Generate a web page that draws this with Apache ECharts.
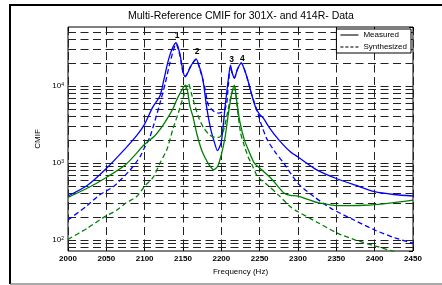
<!DOCTYPE html>
<html>
<head>
<meta charset="utf-8">
<title>Multi-Reference CMIF</title>
<script src="https://cdn.jsdelivr.net/npm/echarts@6/dist/echarts.min.js"></script>
<style>
  html, body { margin: 0; padding: 0; background: #fff; }
  #chart { width: 442px; height: 285px; }
</style>
</head>
<body>
<div id="chart"></div>
<script>
// curves (Hz, CMIF)
var measuredAFreq = [2000, 2025, 2050, 2075, 2090, 2100, 2110, 2120, 2125, 2130, 2135, 2141, 2146, 2150, 2153, 2160, 2167, 2172, 2176, 2181, 2186, 2190, 2195, 2200, 2205, 2209, 2212, 2214, 2217, 2221, 2226, 2230, 2235, 2240, 2245, 2250, 2255, 2263, 2275, 2290, 2300, 2325, 2350, 2375, 2400, 2425, 2450]
var measuredA = [373, 510, 850, 1550, 2300, 3200, 5200, 7500, 12000, 20000, 29000, 36500, 26000, 15500, 13200, 18000, 22500, 17000, 12000, 5200, 2800, 2000, 1450, 1900, 5500, 12000, 18700, 15000, 12700, 16500, 20000, 16500, 11500, 7500, 5200, 4300, 3800, 2850, 2000, 1400, 1200, 810, 630, 515, 425, 390, 373]

var synthAFreq = [2000, 2025, 2041, 2059, 2081, 2094, 2100, 2107, 2120, 2127, 2133, 2141, 2146, 2150, 2153, 2160, 2167, 2172, 2176, 2179, 2183, 2190, 2196, 2203, 2207, 2209, 2212, 2214, 2217, 2221, 2226, 2230, 2235, 2240, 2246, 2252, 2260, 2270, 2280, 2300, 2321, 2343, 2373, 2400, 2426, 2450]
var synthA = [182, 280, 384, 492, 811, 1208, 1600, 2200, 6000, 11000, 20000, 35000, 25000, 15000, 13500, 18000, 22000, 16500, 12000, 9000, 5700, 4700, 4450, 4700, 6000, 10000, 18000, 15000, 12700, 16500, 20000, 16500, 11500, 7500, 5000, 3200, 2000, 1400, 1040, 545, 365, 258, 182, 135, 107, 91]

var measuredBFreq = [2000, 2025, 2050, 2075, 2100, 2113, 2122, 2131, 2137, 2142, 2146, 2150, 2153, 2156, 2159, 2163, 2168, 2174, 2179, 2184, 2190, 2195, 2200, 2205, 2209, 2213, 2217, 2220, 2224, 2230, 2235, 2243, 2250, 2265, 2282, 2290, 2300, 2326, 2356, 2386, 2417, 2450]
var measuredB = [358, 470, 650, 950, 1750, 2250, 2900, 4000, 5100, 6700, 8000, 9400, 10300, 8500, 5500, 4000, 2400, 1500, 1160, 950, 818, 900, 1280, 2200, 4250, 7500, 10300, 6500, 3500, 2000, 1500, 1000, 861, 630, 404, 380, 373, 306, 279, 283, 300, 330]

var synthBFreq = [2000, 2025, 2048, 2064, 2075, 2090, 2100, 2111, 2120, 2129, 2137, 2144, 2150, 2157, 2161, 2165, 2171, 2177, 2185, 2192, 2197, 2202, 2207, 2212, 2217, 2220, 2225, 2229, 2235, 2240, 2246, 2252, 2260, 2275, 2290, 2300, 2325, 2352, 2375, 2400, 2425, 2450]
var synthB = [102, 142, 201, 245, 300, 370, 500, 650, 1000, 1500, 2800, 4500, 7000, 10800, 8000, 5800, 3800, 2850, 2300, 2150, 2150, 2500, 4000, 7000, 10000, 6000, 2500, 1800, 1200, 950, 700, 600, 520, 380, 270, 233, 170, 122, 100, 84, 71, 60]

// horizontal grid (log minor + major ticks inside the plot range)
var yGridLines = [80, 90, 100, 200, 300, 400, 500, 600, 700, 800, 900, 1000, 2000, 3000, 4000, 5000, 6000, 7000, 8000, 9000, 10000, 20000, 30000, 40000, 50000]

var peakNames = ['1', '2', '3', '4']
var peakFreqs = [2141, 2167, 2212, 2226]

var myChart = echarts.init(document.getElementById('chart'))

function pairs (freq, vals) {
  return freq.map(function (f, i) {
    return [f, vals[i]]
  })
}

function curve (name, freq, vals, color, dashed) {
  return {
    name: name,
    type: 'line',
    data: pairs(freq, vals),
    symbol: 'none',
    smooth: 0.25,
    silent: true,
    z: 3,
    lineStyle: {
      color: color,
      width: 1.3,
      type: dashed ? [5, 3] : 'solid'
    },
    itemStyle: { color: color }
  }
}

var peakOffsets = [[1, -1], [1, -1], [1, 1], [1, 2]]
var peakPoints = peakFreqs.map(function (f, k) {
  var i = measuredAFreq.indexOf(f)
  return {
    coord: [measuredAFreq[i], measuredA[i]],
    value: peakNames[k],
    label: { offset: peakOffsets[k] }
  }
})

var blueSolid = curve('Measured A', measuredAFreq, measuredA, '#0000ff', false)
blueSolid.markPoint = {
  symbol: 'circle',
  symbolSize: 0,
  silent: true,
  label: {
    show: true,
    position: 'top',
    distance: 2,
    color: '#000',
    fontSize: 8.5,
    fontWeight: 'bold',
    formatter: '{c}'
  },
  data: peakPoints
}

var option = {
  animation: false,
  backgroundColor: '#fff',
  textStyle: { fontFamily: 'Liberation Sans, Arial, sans-serif' },
  title: {
    text: 'Multi-Reference CMIF for 301X- and 414R- Data',
    left: 128,
    top: 11,
    padding: 0,
    textStyle: { fontSize: 10.5, fontWeight: 'normal', color: '#000' }
  },
  legend: {
    data: ['Measured', 'Synthesized'],
    orient: 'vertical',
    right: 31,
    top: 29,
    z: 10,
    padding: [2, 4, 2, 3],
    itemGap: 4,
    itemWidth: 18,
    itemHeight: 8,
    borderColor: '#000',
    borderWidth: 1,
    backgroundColor: '#fff',
    selectedMode: false,
    itemStyle: { opacity: 0 },
    textStyle: { fontSize: 8, color: '#000' }
  },
  grid: {
    left: 68,
    right: 29,
    top: 27,
    bottom: 34,
    show: true,
    borderColor: '#000',
    borderWidth: 1,
    backgroundColor: 'transparent'
  },
  xAxis: [{
    type: 'value',
    min: 2000,
    max: 2450,
    interval: 50,
    name: 'Frequency (Hz)',
    nameLocation: 'middle',
    nameGap: 13,
    nameTextStyle: { fontSize: 8, color: '#000' },
    axisLine: { show: false },
    axisTick: { inside: true, length: 4, lineStyle: { color: '#000' } },
    axisLabel: {
      fontSize: 8,
      fontWeight: 'bold',
      color: '#000',
      margin: 4,
      formatter: function (v) {
        return String(v)
      }
    },
    splitLine: { show: true, lineStyle: { color: '#222', width: 1, type: [8, 4.5] } }
  }, {
    type: 'value',
    position: 'top',
    min: 2000,
    max: 2450,
    interval: 50,
    axisLine: { show: false },
    axisTick: { inside: true, length: 4, lineStyle: { color: '#000' } },
    axisLabel: { show: false },
    splitLine: { show: false }
  }],
  yAxis: [{
    type: 'log',
    logBase: 10,
    min: 72,
    max: 58500,
    name: 'CMIF',
    nameLocation: 'middle',
    nameGap: 18,
    nameTextStyle: { fontSize: 8, color: '#000' },
    axisLine: { show: false },
    axisTick: { inside: true, length: 4, lineStyle: { color: '#000' } },
    axisLabel: {
      margin: 4,
      showMinLabel: false,
      showMaxLabel: false,
      formatter: function (v) {
        var e = Math.round(Math.log10(v))
        if (Math.abs(Math.log10(v) - e) > 1e-6) {
          return ''
        }
        return '{b|10}{s|' + e + '}'
      },
      rich: {
        b: { fontSize: 8, color: '#000', verticalAlign: 'bottom' },
        s: { fontSize: 5, color: '#000', verticalAlign: 'top' }
      }
    },
    splitLine: { show: false }
  }, {
    type: 'log',
    logBase: 10,
    position: 'right',
    min: 72,
    max: 58500,
    axisLine: { show: false },
    axisTick: { inside: true, length: 4, lineStyle: { color: '#000' } },
    axisLabel: { show: false },
    splitLine: { show: false }
  }],
  graphic: [
    { type: 'line', silent: true, shape: { x1: 10, y1: 5, x2: 442, y2: 5 }, style: { stroke: '#000', lineWidth: 2 } },
    { type: 'line', silent: true, shape: { x1: 10, y1: 4, x2: 10, y2: 284 }, style: { stroke: '#000', lineWidth: 2 } },
    { type: 'line', silent: true, shape: { x1: 10, y1: 284, x2: 442, y2: 284 }, style: { stroke: '#555', lineWidth: 1 } }
  ],
  series: [
    {
      name: 'grid',
      type: 'line',
      data: [],
      z: 1,
      silent: true,
      markLine: {
        z: 1,
        silent: true,
        symbol: ['none', 'none'],
        label: { show: false },
        lineStyle: { color: '#222', width: 1, type: [8, 4.5] },
        data: yGridLines.map(function (v) {
          return { yAxis: v }
        })
      }
    },
    { name: 'Measured', type: 'line', data: [], symbol: 'none', lineStyle: { color: '#777', width: 1, type: 'solid' }, itemStyle: { color: '#777' } },
    { name: 'Synthesized', type: 'line', data: [], symbol: 'none', lineStyle: { color: '#777', width: 1, type: [3, 2] }, itemStyle: { color: '#777' } },
    blueSolid,
    curve('Synthesized A', synthAFreq, synthA, '#0000ff', true),
    curve('Measured B', measuredBFreq, measuredB, '#008000', false),
    curve('Synthesized B', synthBFreq, synthB, '#008000', true)
  ]
}

myChart.setOption(option)
</script>
</body>
</html>
